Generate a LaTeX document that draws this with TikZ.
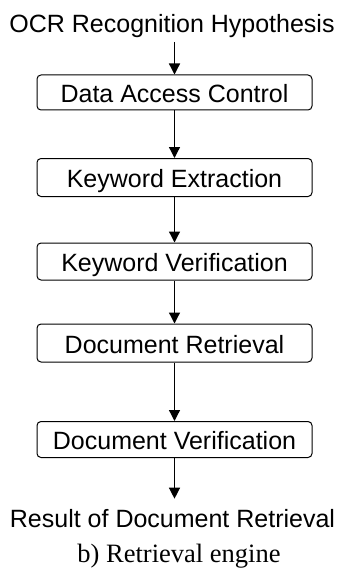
\documentclass[tikz,border=0pt]{standalone}
\usepackage{fontspec}
\setmainfont{Liberation Serif}
\newfontfamily\arialfont{Liberation Sans}
\usetikzlibrary{arrows.meta}
\tikzset{
  stepbox/.style={draw, line width=1pt, rounded corners=4pt, minimum width=275pt,
    inner sep=0pt, text height=20pt, text depth=0pt,
    font=\arialfont\fontsize{25}{30}\selectfont},
  lbl/.style={inner sep=0pt, anchor=base, font=\arialfont\fontsize{25}{30}\selectfont},
  flow/.style={line width=1.3pt, -{Triangle[length=11pt,width=11pt]}}
}
\begin{document}
\begin{tikzpicture}[x=1pt,y=-1pt]
\useasboundingbox (0,0) rectangle (344,575);
\node[lbl] (title) at (172,33) {OCR Recognition Hypothesis};
\node[stepbox, minimum height=35pt] (b1) at (174.5,92.5) {Data Access Control};
\node[stepbox, minimum height=38pt] (b2) at (174.5,177.5) {Keyword Extraction};
\node[stepbox, minimum height=37pt] (b3) at (174.5,261.5) {Keyword Verification};
\node[stepbox, minimum height=38pt] (b4) at (174.5,343) {Document Retrieval};
\node[stepbox, minimum height=36pt] (b5) at (174.5,439.5) {Document Verification};
\node[lbl] (result) at (172.5,527) {Result of Document Retrieval};
\node[inner sep=0pt, anchor=base, font=\fontsize{26.5}{30}\selectfont] (cap) at (179,562) {b) Retrieval engine};
\draw[flow, shorten <=3.5pt] (b1.north |- title.south) -- (b1.north);
\draw[flow] (b1) -- (b2);
\draw[flow] (b2) -- (b3);
\draw[flow] (b3) -- (b4);
\draw[flow] (b4) -- (b5);
\draw[flow, shorten >=10pt] (b5) -- (b5.south |- result.north);
\end{tikzpicture}
\end{document}
